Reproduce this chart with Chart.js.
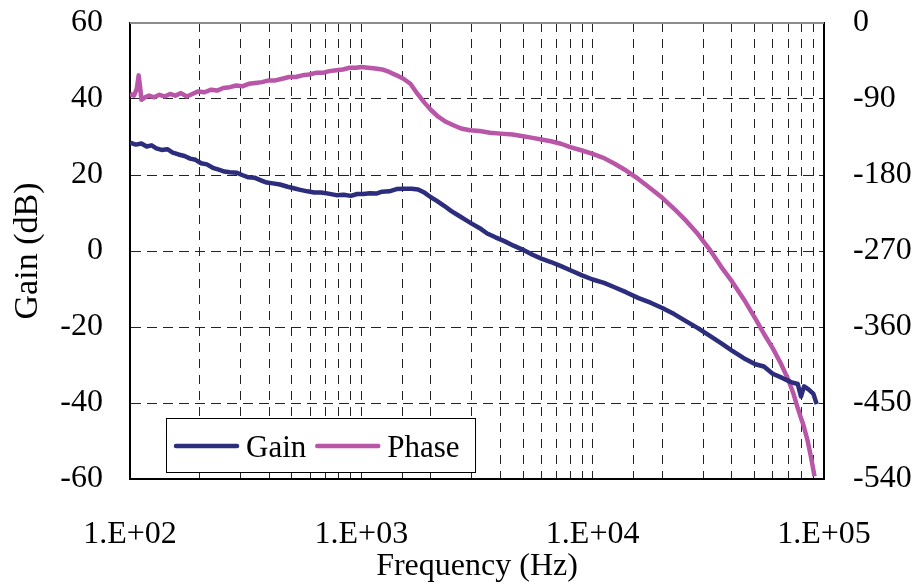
<!DOCTYPE html>
<html>
<head>
<meta charset="utf-8">
<title>Gain / Phase</title>
<script src="https://cdn.jsdelivr.net/npm/chart.js@4/dist/chart.umd.min.js"></script>
<style>
  body { margin: 0; background: #fff; }
  #wrap { width: 912px; height: 586px; }
</style>
</head>
<body>
<div id="wrap"><canvas id="myChart" width="912" height="586"></canvas></div>
<script>
"use strict";

// frequency axis (Hz)
const freqMajor = [100, 1000, 10000, 100000];
const freqLabels = ["1.E+02", "1.E+03", "1.E+04", "1.E+05"];

// gain curve
const gainFreq = [100, 106, 112, 118, 124, 130, 137, 145, 153, 162, 172, 182, 192, 203, 215, 228, 242, 256, 270, 290,
    305, 325, 345, 368, 390, 415, 445, 480, 510, 545, 585, 625, 670, 720, 780, 840, 900, 960, 1020, 1090,
    1160, 1230, 1320, 1420, 1520, 1650, 1760, 1880, 1990, 2120, 2280, 2450, 2620, 2800, 3000, 3250, 3500, 3800, 4150, 4550,
    5000, 5500, 6000, 6600, 7300, 8100, 9000, 10000, 11200, 12500, 14000, 15800, 17800, 20000, 22500, 25500, 28500, 32000, 36000, 40000,
    45000, 50500, 55000, 60000, 66000, 72000, 77000, 79500, 82000, 86000, 90000, 93000];
const gainDb = [28.5, 28.0, 28.3, 27.5, 27.8, 27.0, 26.6, 26.8, 25.9, 25.4, 25.0, 24.3, 24.0, 23.1, 22.8, 21.9, 21.4, 20.9, 20.7, 20.6,
    20.0, 19.4, 19.3, 18.6, 18.0, 17.8, 17.5, 16.9, 16.5, 16.1, 15.7, 15.4, 15.4, 15.1, 14.7, 14.8, 14.5, 15.0, 15.0, 15.2,
    15.1, 15.6, 15.7, 16.3, 16.4, 16.4, 16.2, 15.3, 14.2, 13.2, 11.9, 10.5, 9.4, 8.3, 7.2, 6.0, 4.6, 3.6, 2.6, 1.4,
    0.3, -1.0, -2.0, -2.9, -4.0, -5.2, -6.4, -7.5, -8.4, -9.6, -10.9, -12.4, -13.6, -15.0, -16.6, -18.6, -20.3, -22.3, -24.3, -26.2,
    -28.2, -29.8, -30.4, -32.3, -33.4, -34.5, -35.0, -38.3, -35.6, -36.5, -37.6, -40.3];

// phase curve (degrees)
const phaseFreq = [100, 104, 107, 109, 110.5, 112, 116, 121, 127, 134, 141, 149, 157, 166, 176, 186, 197, 210, 224, 238,
    253, 270, 288, 306, 326, 348, 372, 398, 425, 455, 487, 520, 556, 595, 636, 680, 728, 778, 832, 890,
    950, 1000, 1070, 1150, 1230, 1320, 1420, 1520, 1630, 1750, 1870, 2000, 2150, 2320, 2500, 2700, 2950, 3250, 3600, 4000,
    4500, 5000, 5500, 6000, 6600, 7300, 8000, 9000, 10000, 11200, 12500, 14000, 15800, 17800, 20000, 22500, 25500, 28500, 32000, 36000,
    40000, 45000, 50500, 55000, 60000, 65000, 70000, 74000, 77000, 80000, 81500, 85000, 88000, 91000];
const phaseDeg = [-84, -86, -78, -62, -75, -91, -88, -86, -88, -85, -87, -84, -86, -83, -87, -84, -81, -82, -79, -80,
    -77, -76, -74, -75, -72, -71, -70, -68, -68, -66, -64, -64, -62, -61, -59, -59, -57, -56, -55, -53,
    -53, -52, -53, -54, -55, -58, -62, -66, -72, -84, -94, -103, -111, -117, -121, -125, -127, -128, -130, -131,
    -132, -134, -136, -138, -140, -143, -147, -151, -155, -160, -167, -175, -185, -196, -207, -220, -235, -250, -268, -289,
    -306, -327, -350, -368, -385, -403, -422, -440, -456, -470, -476, -495, -515, -537];

// axis ranges
const gainTicks = [-60, -40, -20, 0, 20, 40, 60];
const phaseTicks = [-540, -450, -360, -270, -180, -90, 0];

const serif = "'Liberation Serif', 'Times New Roman', serif";

function toPoints(xs, ys) {
    return xs.map((x, i) => ({ x: x, y: ys[i] }));
}

function fitVertical(width) {
    return s => {
        s.width = width;
        s.paddingTop = 0;
        s.paddingBottom = 0;
    };
}

// legend box inside the plot + grey top frame line
const legendPlugin = {
    id: "boxLegend",
    afterDraw(chart) {
        const ctx = chart.ctx;
        const a = chart.chartArea;
        ctx.save();
        ctx.setLineDash([]);
        ctx.strokeStyle = "#8c8c8c";
        ctx.lineWidth = 2;
        ctx.beginPath();
        ctx.moveTo(a.left, a.top);
        ctx.lineTo(a.right, a.top);
        ctx.stroke();

        const bx = a.left + 36, by = a.bottom - 61, bw = 309, bh = 54;
        ctx.fillStyle = "#fff";
        ctx.fillRect(bx, by, bw, bh);
        ctx.strokeStyle = "#000";
        ctx.lineWidth = 1;
        ctx.strokeRect(bx + 0.5, by + 0.5, bw, bh);

        ctx.font = "31px " + serif;
        ctx.textBaseline = "alphabetic";
        let x = bx + 10;
        const ly = by + 28;
        chart.data.datasets.forEach(ds => {
            ctx.strokeStyle = ds.borderColor;
            ctx.lineWidth = 4.5;
            ctx.lineCap = "round";
            ctx.beginPath();
            ctx.moveTo(x, ly);
            ctx.lineTo(x + 61, ly);
            ctx.stroke();
            ctx.fillStyle = "#000";
            ctx.fillText(ds.label, x + 70, ly + 11);
            x += 70 + ctx.measureText(ds.label).width + 11;
        });
        ctx.restore();
    }
};

const ctx = document.getElementById("myChart").getContext("2d");
new Chart(ctx, {
    type: "scatter",
    data: {
        datasets: [{
            label: "Gain",
            data: toPoints(gainFreq, gainDb),
            borderColor: "#2c2d7c",
            borderWidth: 4.5,
            borderJoinStyle: "round",
            showLine: true,
            pointRadius: 0,
            yAxisID: "y"
        }, {
            label: "Phase",
            data: toPoints(phaseFreq, phaseDeg),
            borderColor: "#b956a8",
            borderWidth: 4.5,
            borderJoinStyle: "round",
            showLine: true,
            pointRadius: 0,
            yAxisID: "y1"
        }]
    },
    options: {
        responsive: false,
        animation: false,
        layout: { padding: { top: 23, left: 0, right: 0, bottom: 0 } },
        plugins: {
            legend: { display: false },
            tooltip: { enabled: false }
        },
        scales: {
            x: {
                type: "logarithmic",
                min: freqMajor[0],
                max: freqMajor[freqMajor.length - 1],
                afterFit: s => { s.height = 107; s.paddingLeft = 0; s.paddingRight = 0; },
                grid: {
                    drawTicks: false,
                    color: c => (c.tick && (c.tick.value === freqMajor[0] || c.tick.value === freqMajor[3])) ? "rgba(0,0,0,0)" : "#222",
                    lineWidth: 1
                },
                border: { color: "#000", width: 2, dash: [9, 7] },
                ticks: {
                    autoSkip: false,
                    maxRotation: 0,
                    padding: 36,
                    color: "#000",
                    font: { family: serif, size: 32 },
                    callback: v => {
                        const i = freqMajor.indexOf(v);
                        return i >= 0 ? freqLabels[i] : "";
                    }
                },
                title: {
                    display: true,
                    text: "Frequency (Hz)",
                    color: "#000",
                    font: { family: serif, size: 32 },
                    padding: { top: 0, bottom: 0 }
                }
            },
            y: {
                position: "left",
                min: gainTicks[0],
                max: gainTicks[gainTicks.length - 1],
                afterFit: fitVertical(130),
                afterBuildTicks: s => { s.ticks = gainTicks.map(v => ({ value: v })); },
                grid: {
                    drawTicks: false,
                    color: c => (c.tick && (c.tick.value === 60 || c.tick.value === -60)) ? "rgba(0,0,0,0)" : "#222",
                    lineWidth: 1
                },
                border: { color: "#000", width: 2, dash: [10, 6] },
                ticks: {
                    padding: 27,
                    color: "#000",
                    font: { family: serif, size: 32 }
                },
                title: {
                    display: true,
                    text: "Gain (dB)",
                    color: "#000",
                    font: { family: serif, size: 34 },
                    padding: { top: 8, bottom: 0 }
                }
            },
            y1: {
                position: "right",
                min: phaseTicks[0],
                max: phaseTicks[phaseTicks.length - 1],
                afterFit: fitVertical(88),
                afterBuildTicks: s => { s.ticks = phaseTicks.map(v => ({ value: v })); },
                grid: { display: false, drawTicks: false },
                border: { color: "#000", width: 2 },
                ticks: {
                    padding: 29,
                    color: "#000",
                    font: { family: serif, size: 32 }
                }
            }
        }
    },
    plugins: [legendPlugin]
});
</script>
</body>
</html>
